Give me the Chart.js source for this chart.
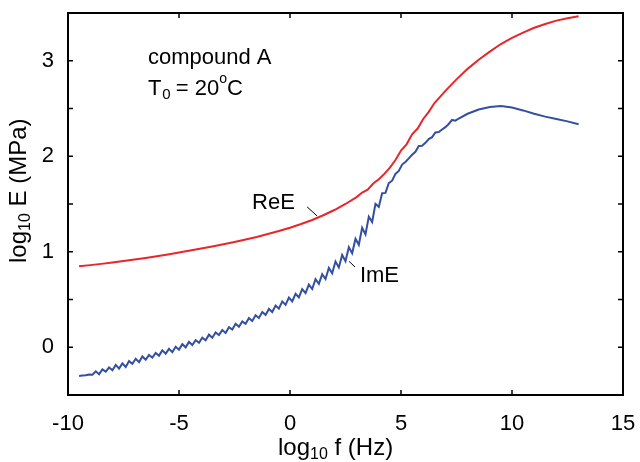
<!DOCTYPE html>
<html>
<head>
<meta charset="utf-8">
<style>
  html, body { margin: 0; padding: 0; background: #fff; }
  #wrap { width: 640px; height: 462px; }
</style>
</head>
<body>
<div id="wrap"><canvas id="chart" width="640" height="462"></canvas></div>
<script src="https://cdn.jsdelivr.net/npm/chart.js@4.4.1/dist/chart.umd.min.js"></script>
<script>
/* ─── DATA ─────────────────────────────────────────────
   log10 f (Hz) against log10 E (MPa).
─────────────────────────────────────────────────────── */

const RE_F = [-9.5, -9, -8.5, -8, -7.5, -7, -6.5, -6, -5.5, -5, -4.5, -4, -3.5, -3, -2.5, -2, -1.5, -1, -0.5, 0,
  0.5, 1, 1.5, 2, 2.5, 3, 3.25, 3.5, 3.75, 4, 4.25, 4.5, 4.75, 5, 5.25, 5.5, 5.75, 6, 6.25, 6.5,
  7, 7.5, 8, 8.5, 9, 9.5, 10, 10.5, 11, 11.5, 12, 12.5, 13];
const RE_E = [0.848, 0.860, 0.873, 0.887, 0.902, 0.918, 0.935, 0.953, 0.972, 0.992, 1.012, 1.033, 1.055, 1.078, 1.102, 1.128, 1.155, 1.185, 1.217, 1.252,
  1.290, 1.333, 1.382, 1.437, 1.500, 1.572, 1.620, 1.650, 1.715, 1.760, 1.815, 1.880, 1.960, 2.060, 2.125, 2.230, 2.290, 2.390, 2.465, 2.555,
  2.685, 2.805, 2.915, 3.010, 3.095, 3.175, 3.240, 3.295, 3.345, 3.385, 3.420, 3.445, 3.467];

const IM_F = [-9.5, -9.35, -9.2, -9.05, -8.9, -8.75, -8.6, -8.45, -8.3, -8.15,
  -8, -7.85, -7.7, -7.55, -7.4, -7.25, -7.1, -6.95, -6.8, -6.65,
  -6.5, -6.35, -6.2, -6.05, -5.9, -5.75, -5.6, -5.45, -5.3, -5.15,
  -5, -4.85, -4.7, -4.55, -4.4, -4.25, -4.1, -3.95, -3.8, -3.65,
  -3.5, -3.35, -3.2, -3.05, -2.9, -2.75, -2.6, -2.45, -2.3, -2.15,
  -2, -1.85, -1.7, -1.55, -1.4, -1.25, -1.1, -0.95, -0.8, -0.65,
  -0.5, -0.35, -0.2, -0.05, 0.1, 0.25, 0.4, 0.55, 0.7, 0.85,
  1, 1.15, 1.3, 1.45, 1.6, 1.75, 1.9, 2.05, 2.2, 2.35,
  2.5, 2.65, 2.8, 2.95, 3.1, 3.25, 3.4, 3.55, 3.7, 3.85,
  4, 4.15, 4.3, 4.45, 4.6, 4.75, 4.9, 5.05, 5.2, 5.35,
  5.5, 5.65, 5.8, 5.95, 6.1, 6.25, 6.4, 6.55, 6.7, 6.85,
  7, 7.15, 7.3, 7.45, 7.6,
  8, 8.5, 9, 9.5, 10, 10.5, 11, 11.5, 12, 12.5, 13];
const IM_E = [-0.300, -0.297, -0.294, -0.286, -0.288, -0.252, -0.282, -0.232, -0.256, -0.211,
  -0.240, -0.185, -0.224, -0.169, -0.207, -0.145, -0.173, -0.121, -0.156, -0.096,
  -0.130, -0.080, -0.109, -0.059, -0.088, -0.033, -0.067, -0.017, -0.051, 0.005,
  -0.025, 0.032, -0.001, 0.056, 0.023, 0.075, 0.047, 0.100, 0.073, 0.132,
  0.100, 0.154, 0.127, 0.181, 0.150, 0.210, 0.185, 0.245, 0.215, 0.270,
  0.245, 0.305, 0.275, 0.335, 0.306, 0.368, 0.339, 0.401, 0.369, 0.437,
  0.405, 0.480, 0.444, 0.519, 0.479, 0.560, 0.521, 0.608, 0.567, 0.656,
  0.610, 0.712, 0.664, 0.766, 0.715, 0.830, 0.775, 0.897, 0.836, 0.966,
  0.900, 1.047, 0.984, 1.136, 1.073, 1.250, 1.182, 1.368, 1.312, 1.501,
  1.470, 1.613, 1.616, 1.719, 1.744, 1.815, 1.846, 1.913, 1.940, 1.978,
  2.015, 2.047, 2.108, 2.110, 2.140, 2.180, 2.200, 2.249, 2.254, 2.280,
  2.305, 2.338, 2.380, 2.373, 2.395,
  2.445, 2.490, 2.515, 2.525, 2.510, 2.480, 2.445, 2.415, 2.390, 2.365, 2.335];

/* Axis ticks: x every 5, y every 0.5 but only integers labelled */
const X_TICKS  = [-10, -5, 0, 5, 10, 15];
const Y_TICKS  = [-0.5, 0, 0.5, 1, 1.5, 2, 2.5, 3, 3.5];
const Y_LABELS = [0, 1, 2, 3];

const FONT = '"Liberation Sans", Arial, Helvetica, sans-serif';
const RED  = 'rgb(232,38,42)';
const BLUE = 'rgb(52,78,162)';


/* ─── TEXT HELPERS ─────────────────────────────────────
   Draws a row of text pieces, some of them sub/superscript.
─────────────────────────────────────────────────────── */

function drawRuns(ctx, x, y, runs) {
  runs.forEach((r) => {
    ctx.font = `${r.size}px ${FONT}`;
    ctx.fillText(r.t, x + (r.dx || 0), y + (r.dy || 0));
    x += (r.dx || 0) + ctx.measureText(r.t).width;
  });
}

function line(ctx, x1, y1, x2, y2) {
  ctx.beginPath();
  ctx.moveTo(x1, y1);
  ctx.lineTo(x2, y2);
  ctx.stroke();
}


/* ─── FRAME, INWARD TICKS, LABELS ───────────────────── */

const decor = {
  id: 'decor',
  afterDatasetsDraw(chart) {
    const { ctx, chartArea: a, scales: { x, y } } = chart;
    ctx.save();
    ctx.strokeStyle = '#000';
    ctx.fillStyle = '#000';

    ctx.lineWidth = 1.5;
    X_TICKS.forEach((v) => {
      const px = x.getPixelForValue(v);
      line(ctx, px, a.bottom, px, a.bottom - 5);
      line(ctx, px, a.top, px, a.top + 5);
    });
    Y_TICKS.forEach((v) => {
      const py = y.getPixelForValue(v);
      line(ctx, a.left, py, a.left + 5, py);
      line(ctx, a.right, py, a.right - 5, py);
    });

    ctx.lineWidth = 2;
    ctx.strokeRect(a.left, a.top, a.right - a.left, a.bottom - a.top);

    /* curve labels with their little pointer lines */
    ctx.lineWidth = 1;
    line(ctx, x.getPixelForValue(0.77), y.getPixelForValue(1.47), x.getPixelForValue(1.22), y.getPixelForValue(1.375));
    line(ctx, x.getPixelForValue(2.66), y.getPixelForValue(0.90), x.getPixelForValue(2.93), y.getPixelForValue(0.84));

    ctx.textBaseline = 'alphabetic';
    ctx.textAlign = 'left';
    drawRuns(ctx, x.getPixelForValue(-1.71), y.getPixelForValue(1.449), [{ t: 'ReE', size: 22 }]);
    drawRuns(ctx, x.getPixelForValue(3.15), y.getPixelForValue(0.683), [{ t: 'ImE', size: 22 }]);

    const tx = x.getPixelForValue(-6.4);
    drawRuns(ctx, tx, y.getPixelForValue(2.97), [{ t: 'compound A', size: 22 }]);
    drawRuns(ctx, tx, y.getPixelForValue(2.646), [
      { t: 'T', size: 22 },
      { t: '0', size: 15, dx: 1, dy: 4 },
      { t: '= 20', size: 22, dx: 5 },
      { t: 'o', size: 14, dy: -12 },
      { t: 'C', size: 22 },
    ]);

    /* axis titles */
    drawRuns(ctx, 278, 455, [
      { t: 'log', size: 24 },
      { t: '10', size: 16, dy: 4 },
      { t: ' f (Hz)', size: 24 },
    ]);

    ctx.translate(26, 263);
    ctx.rotate(-Math.PI / 2);
    drawRuns(ctx, 0, 0, [
      { t: 'log', size: 24 },
      { t: '10', size: 16, dy: 4 },
      { t: ' E (MPa)', size: 24 },
    ]);
    ctx.restore();
  },
};


/* ─── CHART ──────────────────────────────────────────── */

const reData = RE_F.map((f, i) => ({ x: f, y: RE_E[i] }));
const imData = IM_F.map((f, i) => ({ x: f, y: IM_E[i] }));

/* Pin the plot box: no extra room for overhanging tick labels */
function pinX(s) { s.height = 67; s.paddingLeft = 0; s.paddingRight = 0; }
function pinY(s) { s.width = 68; s.paddingTop = 0; s.paddingBottom = 0; }

new Chart(document.getElementById('chart').getContext('2d'), {
  type: 'scatter',
  data: {
    datasets: [
      { label: 'ReE', data: reData, showLine: true, borderColor: RED,  borderWidth: 2, pointRadius: 0, tension: 0 },
      { label: 'ImE', data: imData, showLine: true, borderColor: BLUE, borderWidth: 2, pointRadius: 0, tension: 0 },
    ],
  },
  options: {
    responsive: false,
    animation: false,
    devicePixelRatio: 1,
    layout: { padding: { top: 13, right: 17, left: 0, bottom: 0 } },
    plugins: { legend: { display: false }, tooltip: { enabled: false } },
    scales: {
      x: {
        type: 'linear',
        min: -10,
        max: 15,
        afterBuildTicks: (s) => { s.ticks = X_TICKS.map((v) => ({ value: v })); },
        afterFit: pinX,
        grid: { display: false, drawTicks: false },
        border: { display: false },
        ticks: { color: '#000', font: { family: FONT, size: 22 }, padding: 16, maxRotation: 0 },
      },
      y: {
        type: 'linear',
        min: -0.5,
        max: 3.5,
        afterBuildTicks: (s) => { s.ticks = Y_TICKS.map((v) => ({ value: v })); },
        afterFit: pinY,
        grid: { display: false, drawTicks: false },
        border: { display: false },
        ticks: {
          color: '#000',
          font: { family: FONT, size: 22 },
          padding: 14,
          autoSkip: false,
          callback: (v) => (Y_LABELS.includes(v) ? String(v) : ''),
        },
      },
    },
  },
  plugins: [decor],
});
</script>
</body>
</html>
